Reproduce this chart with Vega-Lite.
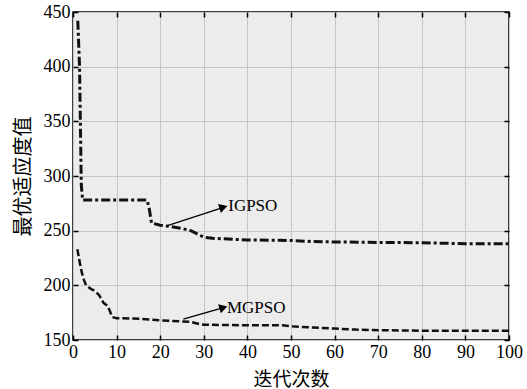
{
  "$schema": "https://vega.github.io/schema/vega-lite/v6.json",
  "width": 436,
  "height": 328,
  "autosize": {"type": "none"},
  "padding": {"left": 73, "top": 12, "right": 18, "bottom": 49},
  "background": "white",
  "config": {
    "view": {"fill": "#ececec", "stroke": "black", "strokeWidth": 1.5},
    "font": "Liberation Serif",
    "axis": {"labelFont": "Liberation Serif"}
  },
  "datasets": {
    "curves": [
      {"series": "IGPSO", "iter": 1.1, "fit": 442},
      {"series": "IGPSO", "iter": 1.5, "fit": 400},
      {"series": "IGPSO", "iter": 1.9, "fit": 292},
      {"series": "IGPSO", "iter": 2.2, "fit": 278},
      {"series": "IGPSO", "iter": 10, "fit": 278},
      {"series": "IGPSO", "iter": 17, "fit": 278},
      {"series": "IGPSO", "iter": 17.5, "fit": 270},
      {"series": "IGPSO", "iter": 18, "fit": 257},
      {"series": "IGPSO", "iter": 20, "fit": 255},
      {"series": "IGPSO", "iter": 22, "fit": 254},
      {"series": "IGPSO", "iter": 25, "fit": 252},
      {"series": "IGPSO", "iter": 27, "fit": 250},
      {"series": "IGPSO", "iter": 28.5, "fit": 247},
      {"series": "IGPSO", "iter": 30, "fit": 244},
      {"series": "IGPSO", "iter": 32, "fit": 243},
      {"series": "IGPSO", "iter": 40, "fit": 241.5},
      {"series": "IGPSO", "iter": 50, "fit": 241},
      {"series": "IGPSO", "iter": 55, "fit": 240},
      {"series": "IGPSO", "iter": 60, "fit": 239.7},
      {"series": "IGPSO", "iter": 70, "fit": 239.2},
      {"series": "IGPSO", "iter": 80, "fit": 239},
      {"series": "IGPSO", "iter": 90, "fit": 238},
      {"series": "IGPSO", "iter": 100, "fit": 238},
      {"series": "MGPSO", "iter": 1, "fit": 233},
      {"series": "MGPSO", "iter": 1.5, "fit": 222},
      {"series": "MGPSO", "iter": 2, "fit": 212},
      {"series": "MGPSO", "iter": 2.5, "fit": 205},
      {"series": "MGPSO", "iter": 3, "fit": 200},
      {"series": "MGPSO", "iter": 4, "fit": 197},
      {"series": "MGPSO", "iter": 5, "fit": 195},
      {"series": "MGPSO", "iter": 6, "fit": 191},
      {"series": "MGPSO", "iter": 7, "fit": 184},
      {"series": "MGPSO", "iter": 8, "fit": 181},
      {"series": "MGPSO", "iter": 8.5, "fit": 176},
      {"series": "MGPSO", "iter": 9, "fit": 171},
      {"series": "MGPSO", "iter": 10, "fit": 170},
      {"series": "MGPSO", "iter": 15, "fit": 169.5},
      {"series": "MGPSO", "iter": 20, "fit": 168},
      {"series": "MGPSO", "iter": 25, "fit": 167},
      {"series": "MGPSO", "iter": 27, "fit": 166.5},
      {"series": "MGPSO", "iter": 29, "fit": 164.5},
      {"series": "MGPSO", "iter": 30, "fit": 164},
      {"series": "MGPSO", "iter": 40, "fit": 163.5},
      {"series": "MGPSO", "iter": 48, "fit": 163.5},
      {"series": "MGPSO", "iter": 50, "fit": 162.5},
      {"series": "MGPSO", "iter": 55, "fit": 161.5},
      {"series": "MGPSO", "iter": 60, "fit": 160.5},
      {"series": "MGPSO", "iter": 65, "fit": 159.5},
      {"series": "MGPSO", "iter": 70, "fit": 159},
      {"series": "MGPSO", "iter": 80, "fit": 158.5},
      {"series": "MGPSO", "iter": 100, "fit": 158.5}
    ],
    "arrows": [
      {"label": "IGPSO", "x1": 21.5, "y1": 254.3, "x2": 34.5, "y2": 271.4, "tx": 35.6, "ty": 272.6, "ang": -17},
      {"label": "MGPSO", "x1": 25.3, "y1": 169, "x2": 34.5, "y2": 179.6, "tx": 35.3, "ty": 179.2, "ang": -16}
    ]
  },
  "layer": [
    {
      "data": {"name": "curves"},
      "transform": [{"filter": "datum.series === 'IGPSO'"}],
      "mark": {"type": "line", "color": "#111", "strokeWidth": 3, "strokeDash": [9, 3, 3, 3], "clip": true},
      "encoding": {
        "x": {"field": "iter", "type": "quantitative", "scale": {"domain": [0, 100], "nice": false},
          "axis": {"orient": "bottom", "values": [0,10,20,30,40,50,60,70,80,90,100], "title": "迭代次数", "titleFont": "Noto Sans CJK SC", "titleFontSize": 19, "titleFontWeight": "normal", "titlePadding": 9, "labelFont": "Liberation Serif", "labelFontSize": 18, "labelColor": "black", "labelPadding": 8, "tickSize": -5, "tickColor": "black", "tickWidth": 1.5, "domain": false, "grid": true, "gridColor": "#c6c6c6", "gridWidth": 1, "labelFlush": false, "titleColor": "black"}},
        "y": {"field": "fit", "type": "quantitative", "scale": {"domain": [150, 450], "nice": false, "zero": false},
          "axis": {"orient": "left", "values": [150,200,250,300,350,400,450], "title": "最优适应度值", "titleFont": "Noto Sans CJK SC", "titleFontSize": 20, "titleFontWeight": "normal", "titlePadding": 10, "labelFont": "Liberation Serif", "labelFontSize": 18, "labelColor": "black", "labelPadding": 8, "tickSize": -5, "tickColor": "black", "tickWidth": 1.5, "domain": false, "grid": true, "gridColor": "#c6c6c6", "gridWidth": 1, "labelFlush": false, "titleColor": "black"}}
      }
    },
    {
      "data": {"name": "curves"},
      "transform": [{"filter": "datum.series === 'MGPSO'"}],
      "mark": {"type": "line", "color": "#111", "strokeWidth": 2.5, "strokeDash": [7, 3], "clip": true},
      "encoding": {
        "x": {"field": "iter", "type": "quantitative",
          "axis": {"orient": "top", "values": [0,10,20,30,40,50,60,70,80,90,100], "title": null, "labels": false, "tickSize": -5, "tickColor": "black", "tickWidth": 1.5, "domain": false, "grid": false}},
        "y": {"field": "fit", "type": "quantitative",
          "axis": {"orient": "right", "values": [150,200,250,300,350,400,450], "title": null, "labels": false, "tickSize": -5, "tickColor": "black", "tickWidth": 1.5, "domain": false, "grid": false}}
      }
    },
    {
      "data": {"name": "arrows"},
      "mark": {"type": "rule", "color": "black", "strokeWidth": 1.3},
      "encoding": {
        "x": {"field": "x1", "type": "quantitative", "axis": null},
        "y": {"field": "y1", "type": "quantitative", "axis": null},
        "x2": {"field": "x2"},
        "y2": {"field": "y2"}
      }
    },
    {
      "data": {"name": "arrows"},
      "mark": {"type": "point", "shape": "triangle-right", "filled": true, "color": "black", "size": 90, "opacity": 1},
      "encoding": {
        "x": {"field": "x2", "type": "quantitative", "axis": null},
        "y": {"field": "y2", "type": "quantitative", "axis": null},
        "angle": {"field": "ang", "type": "quantitative", "scale": null}
      }
    },
    {
      "data": {"name": "arrows"},
      "mark": {"type": "text", "align": "left", "baseline": "middle", "fontSize": 17, "font": "Liberation Serif", "color": "black"},
      "encoding": {
        "x": {"field": "tx", "type": "quantitative", "axis": null},
        "y": {"field": "ty", "type": "quantitative", "axis": null},
        "text": {"field": "label"}
      }
    }
  ],
  "resolve": {"axis": {"x": "independent", "y": "independent"}}
}
